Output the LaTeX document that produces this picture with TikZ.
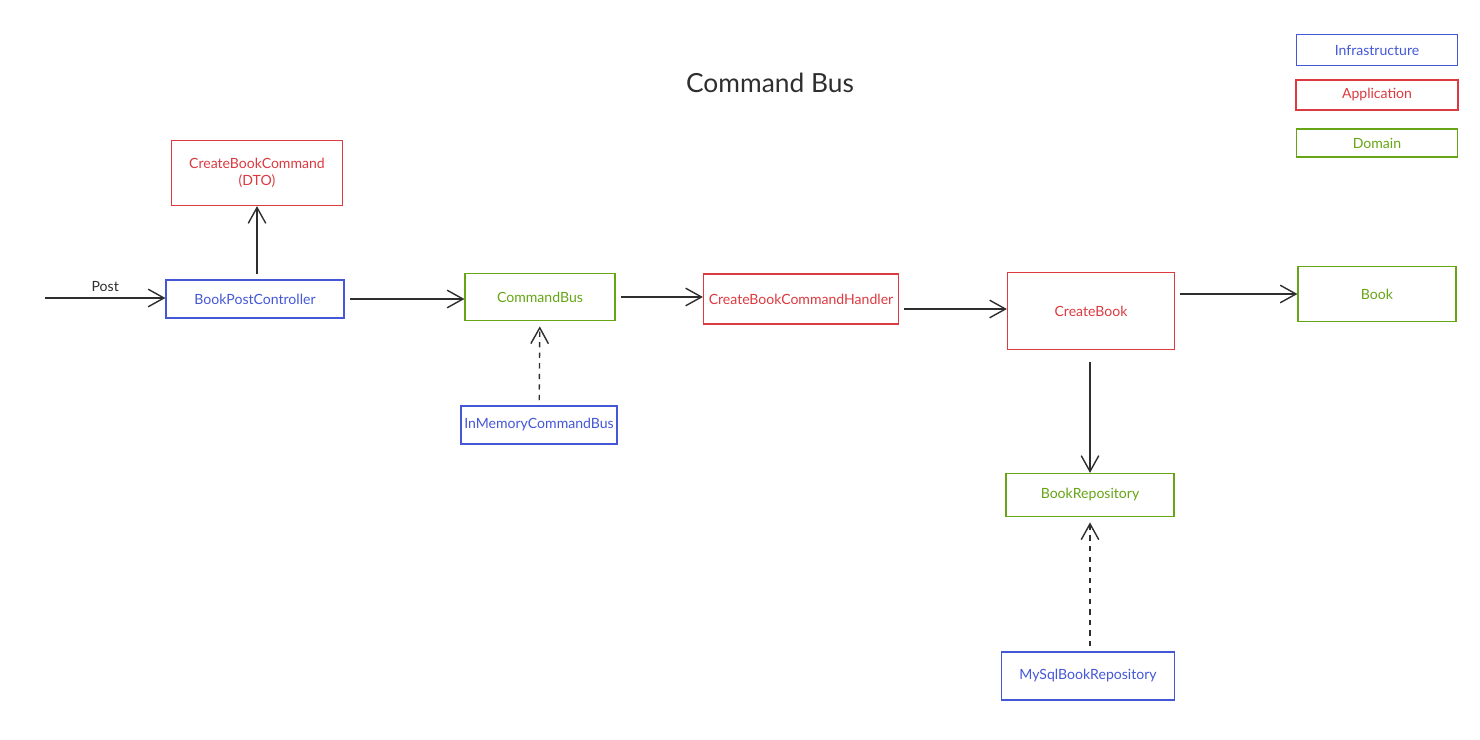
\documentclass[tikz,border=0pt]{standalone}
\usepackage{fontspec}
\setmainfont{Lato}
\usepackage{tikz}
\usetikzlibrary{arrows.meta,positioning}
\definecolor{infra}{HTML}{4457D6}
\definecolor{appl}{HTML}{DB3A40}
\definecolor{dom}{HTML}{66A516}
\definecolor{ink}{HTML}{2E2E2E}

\begin{document}
\begin{tikzpicture}[x=0.02cm,y=-0.02cm,
  box/.style={draw,line width=0.7pt,inner sep=0pt,align=center,
              font=\fontsize{8}{10}\selectfont},
  infrabox/.style={box,draw=infra,text=infra},
  applbox/.style={box,draw=appl,text=appl},
  dombox/.style={box,draw=dom,text=dom},
  arr/.style={-{Straight Barb[length=9pt,width=10pt]},draw=ink,line width=0.8pt,shorten <=3pt},
  impl/.style={arr,dash pattern=on 3pt off 3pt,shorten >=3pt}
]
\useasboundingbox (0,0) rectangle (1480,740);

% title and legend
\node[font=\fontsize{15}{18}\selectfont,text=ink] (title) at (770,83) {Command Bus};
\node[infrabox,minimum width=3.22cm,minimum height=0.62cm] (leginfra) at (1377,50) {Infrastructure};
\node[applbox,minimum width=3.24cm,minimum height=0.60cm] (legappl) at (1377,95) {Application};
\node[dombox,minimum width=3.22cm,minimum height=0.56cm] (legdom) at (1377,143) {Domain};

% main flow
\node[applbox,minimum width=3.42cm,minimum height=1.30cm] (dto) at (257,173) {CreateBookCommand\\(DTO)};
\node[infrabox,minimum width=3.56cm,minimum height=0.76cm] (ctrl) at (255,299) {BookPostController};
\node[dombox,minimum width=3.00cm,minimum height=0.94cm] (bus) at (540,297) {CommandBus};
\node[infrabox,minimum width=3.12cm,minimum height=0.76cm] (membus) at (539,425) {InMemoryCommandBus};
\node[applbox,minimum width=3.90cm,minimum height=1.00cm] (handler) at (801,299) {CreateBookCommandHandler};
\node[applbox,minimum width=3.34cm,minimum height=1.54cm] (create) at (1091,311) {CreateBook};
\node[dombox,minimum width=3.16cm,minimum height=1.10cm] (book) at (1377,294) {Book};
\node[dombox,minimum width=3.36cm,minimum height=0.86cm] (repo) at (1090,495) {BookRepository};
\node[infrabox,minimum width=3.46cm,minimum height=0.96cm] (mysql) at (1088,676) {MySqlBookRepository};

\coordinate (post) at (45,298);
\draw[arr,shorten <=0pt] (post) -- node[above,text=ink,font=\fontsize{8}{10}\selectfont] {Post} (ctrl.west |- post);
\draw[arr] (ctrl.north -| dto.south) -- (dto.south);
\draw[arr] (ctrl.east) -- (ctrl.east -| bus.west);
\draw[arr] (bus.east) -- (handler.west |- bus.east);
\draw[arr] ([yshift=-0.2cm]handler.east) -- ([yshift=-0.2cm]handler.east -| create.west);
\draw[arr] (create.east |- book) -- (book.west);
\draw[arr,shorten <=7pt] (create.south -| repo.north) -- (repo.north);
\draw[impl] (membus) -- (bus);
\draw[impl] (mysql.north -| repo.south) -- (repo.south);
\end{tikzpicture}
\end{document}
